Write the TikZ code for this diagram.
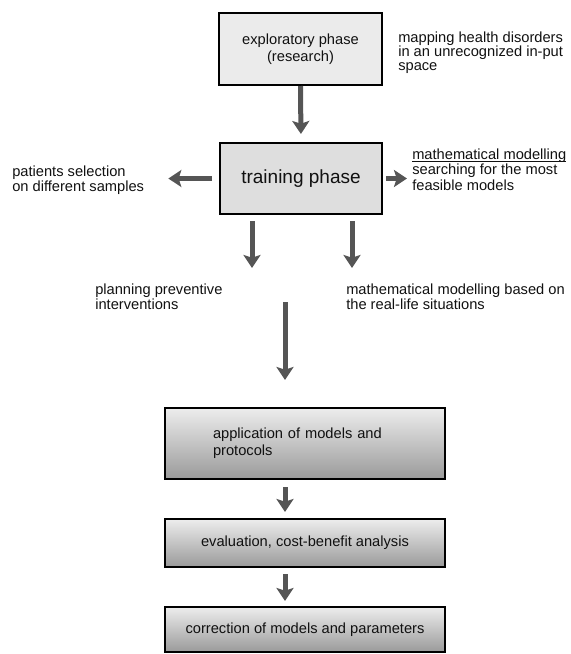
\documentclass[tikz,border=0pt]{standalone}
\usepackage{fontspec}
\setmainfont{Liberation Sans}
\usetikzlibrary{arrows.meta}

\definecolor{arrowgray}{HTML}{555555}
\definecolor{phasefill}{HTML}{EBEBEB}
\definecolor{trainfill}{HTML}{DEDEDE}
\definecolor{stagetop}{HTML}{EDEDED}
\definecolor{stagebot}{HTML}{9A9A9A}
\definecolor{inktext}{HTML}{111111}

\begin{document}
\begin{tikzpicture}[x=0.75pt, y=-0.75pt,
  phasebox/.style={draw=black, line width=1.5pt, inner sep=0pt,
    align=center, text=inktext, font=\fontsize{11}{12.5}\selectfont},
  stagebox/.style={phasebox, top color=stagetop, bottom color=stagebot,
    minimum width=210pt},
  note/.style={anchor=west, align=left, inner sep=0pt, text=inktext,
    font=\fontsize{11}{11}\selectfont},
  flow/.style={draw=arrowgray, line width=3.75pt,
    -{Stealth[length=9.75pt, width=12.75pt, inset=2pt]}}]

  \useasboundingbox (0,0) rectangle (571,654);

  % ================================================================
  % Upper phases (plain grey boxes)
  % ================================================================

  \node[phasebox, fill=phasefill, minimum width=122.25pt,
    minimum height=54pt] (expl) at (300.5,49)
    {exploratory phase\\(research)};

  \node[phasebox, fill=trainfill, minimum width=121.5pt,
    minimum height=53.25pt, font=\fontsize{14.25}{16}\selectfont]
    (train) at (301,178.5) {training phase};

  % ================================================================
  % Side notes
  % ================================================================

  \node[note, font=\fontsize{11}{10.6}\selectfont] (mapping) at (398,53)
    {mapping health disorders\\in an unrecognized in-put\\space};
  \node[note] (patients) at (12,180)
    {patients selection\\on different samples};
  \node[note, font=\fontsize{11}{11.6}\selectfont] (model) at (412,175)
    {\underline{\smash{mathematical modelling}}\\searching for the most\\feasible models};
  \node[note] (planning) at (95,297)
    {planning preventive\\interventions};
  \node[note] (reallife) at (346,297)
    {mathematical modelling based on\\the real-life situations};

  % ================================================================
  % Lower stages (shaded boxes)
  % ================================================================

  \node[stagebox, minimum height=53.25pt, text width=138pt, align=left]
    (app) at (305,443.5) {application of models and\\protocols};
  \node[stagebox, minimum height=36pt] (eval) at (305,543)
    {evaluation, cost-benefit analysis};
  \node[stagebox, minimum height=33.75pt] (corr) at (305,629.5)
    {correction of models and parameters};

  % ================================================================
  % Arrows
  % ================================================================

  \coordinate (plantip) at (252,268);
  \coordinate (realtip) at (352,268);
  \coordinate (midtop) at (285,302);

  % --- exploratory -> training ---
  \draw[flow, shorten >=6pt] (expl.south) -- (train.north);

  % --- training -> side notes ---
  \draw[flow, shorten <=5.25pt, shorten >=18pt]
    (train.west) -- (train.west -| patients.east);
  \draw[flow, shorten <=2.25pt, shorten >=3.75pt]
    (train.east) -- (train.east -| model.west);
  \draw[flow, shorten <=4.5pt] (train.south -| plantip) -- (plantip);
  \draw[flow, shorten <=4.5pt] (train.south -| realtip) -- (realtip);

  % --- down to the stages ---
  \draw[flow, shorten >=20.25pt] (midtop) -- (midtop |- app.north);
  \draw[flow, shorten <=5.25pt, shorten >=4.5pt]
    (app.south -| midtop) -- (eval.north -| midtop);
  \draw[flow, shorten <=4.5pt, shorten >=3.75pt]
    (eval.south -| midtop) -- (corr.north -| midtop);

\end{tikzpicture}
\end{document}
